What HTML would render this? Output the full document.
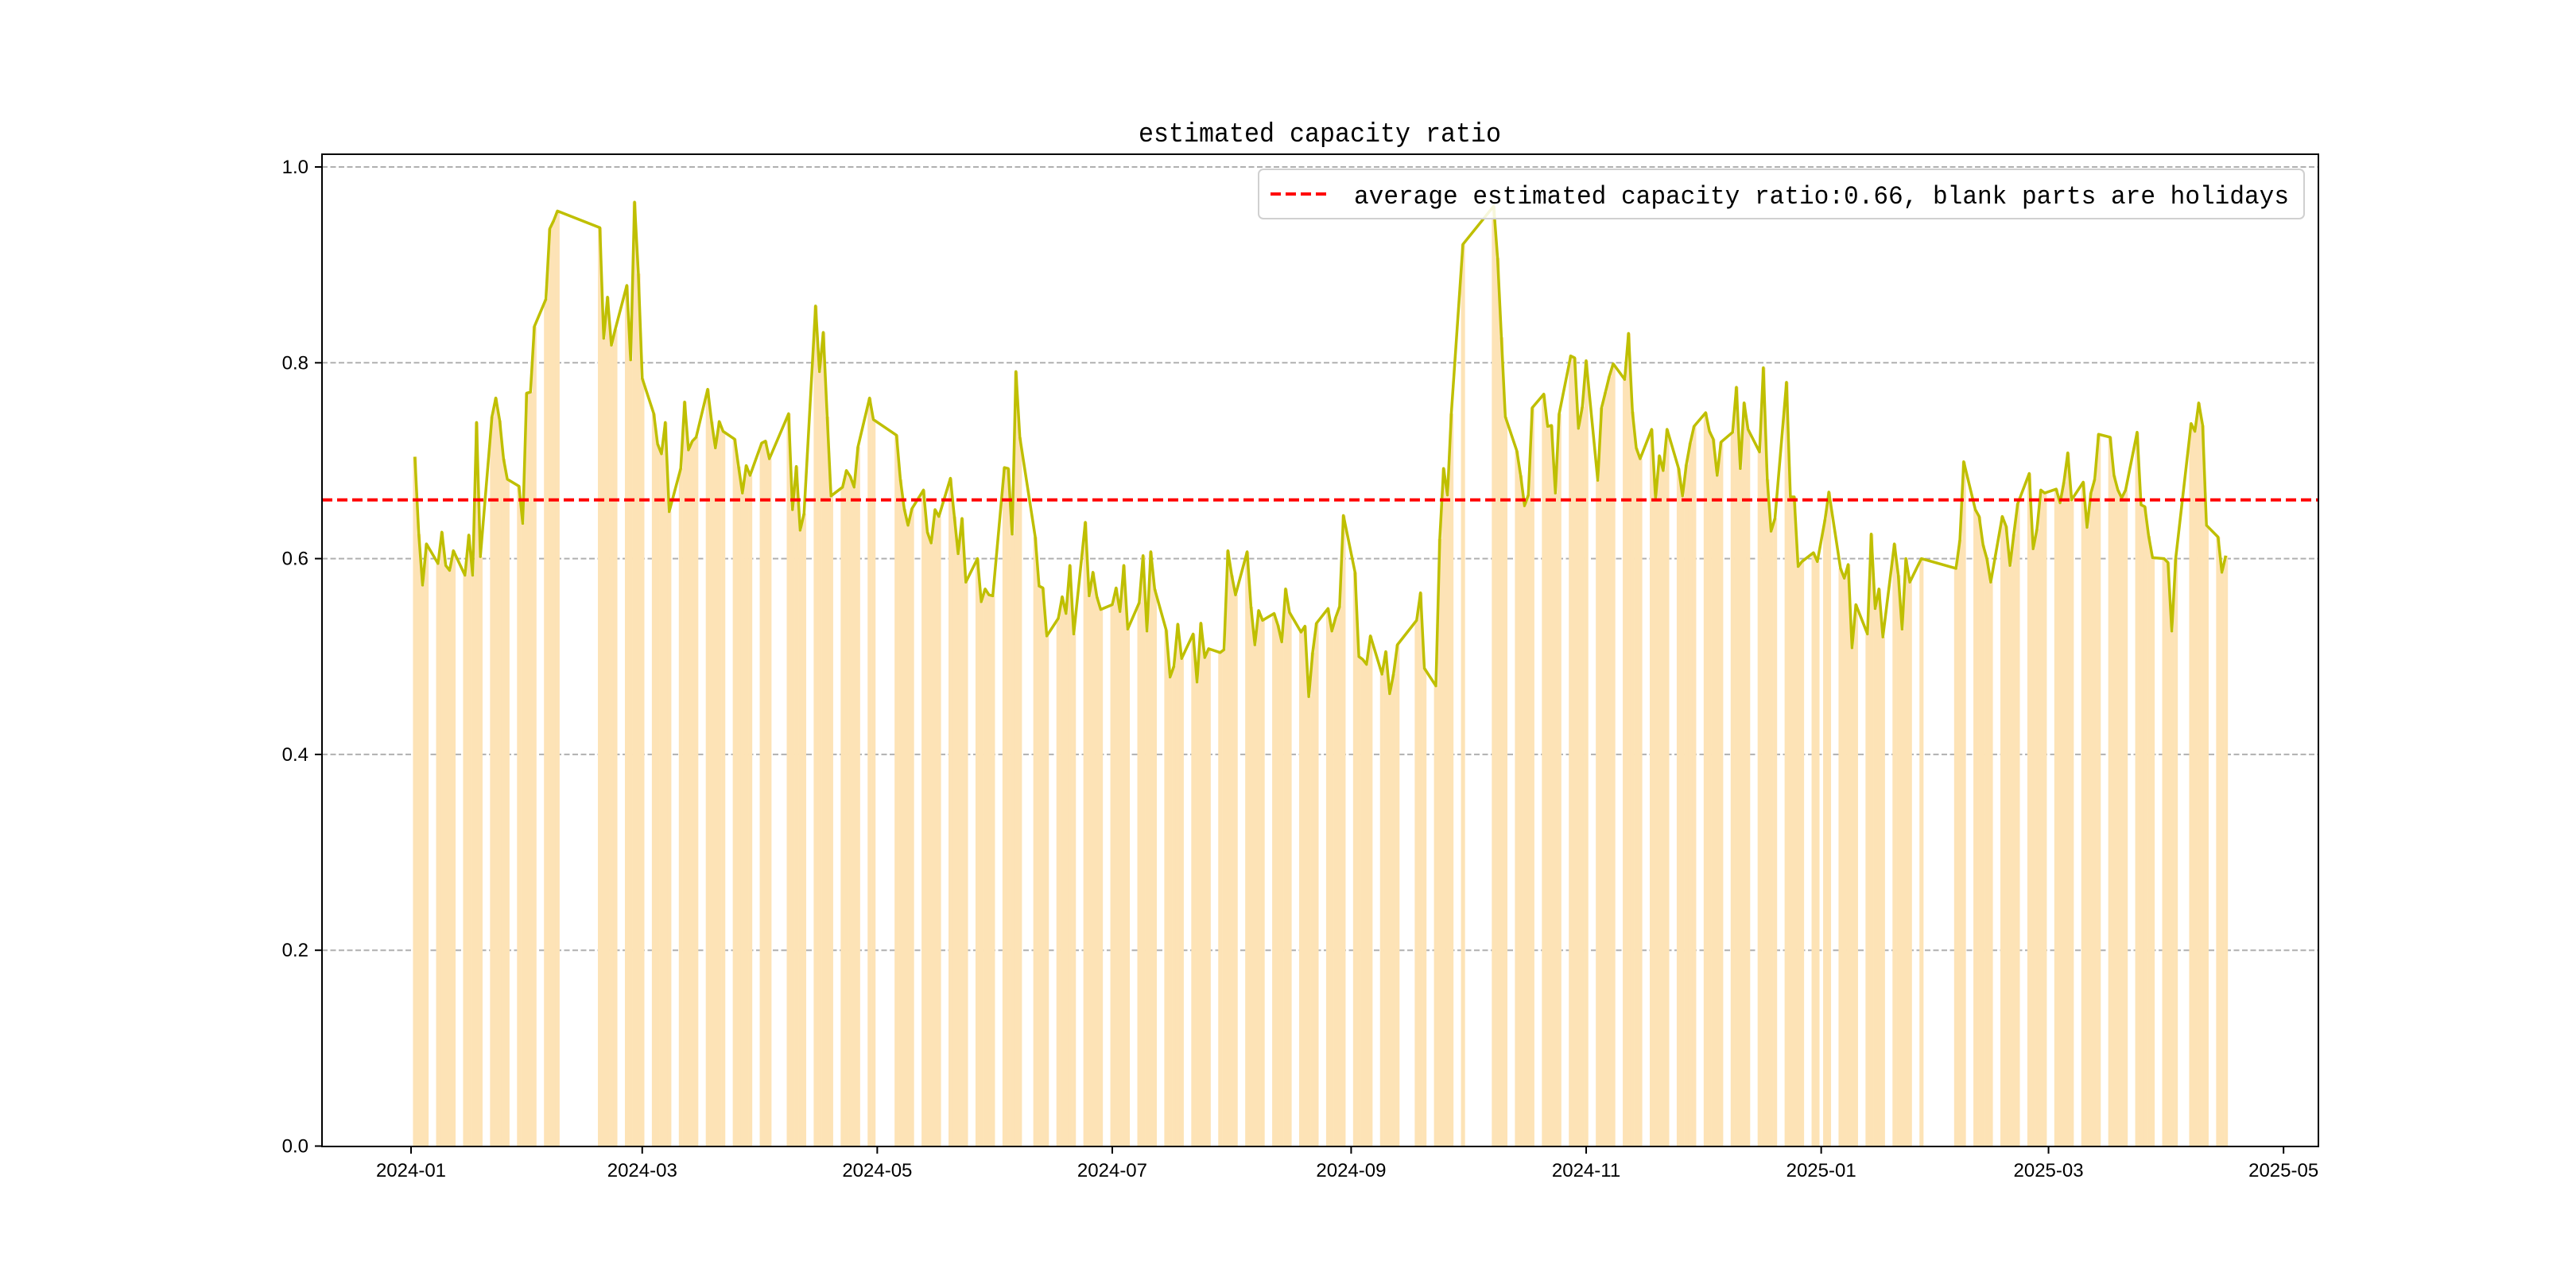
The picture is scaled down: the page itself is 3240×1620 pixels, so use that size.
<!DOCTYPE html>
<html><head><meta charset="utf-8"><style>
html,body{margin:0;padding:0;background:#fff;}
svg{display:block;}
text{font-family:"Liberation Sans",sans-serif;}
</style></head><body>
<svg id="chart" width="3240" height="1620" viewBox="0 0 3240 1620" xmlns="http://www.w3.org/2000/svg">
<rect x="0" y="0" width="3240" height="1620" fill="#fff"/>
<text x="1660" y="178" text-anchor="middle" font-size="34" textLength="456" lengthAdjust="spacingAndGlyphs" style="font-family:'Liberation Mono',monospace">estimated capacity ratio</text>
<g id="grid"></g>
<g id="bars"></g>
<g id="lines"></g>
<rect x="405" y="194" width="2511" height="1248" fill="none" stroke="#000" stroke-width="2"/>
<g id="xticks"></g>
<g id="yticks"></g>
<g>
<rect x="1583" y="213" width="1315" height="62" rx="6" fill="#fff" fill-opacity="0.85" stroke="#d0d0d0" stroke-width="2"/>
<line x1="1598" y1="244" x2="1668" y2="244" stroke="#ff0000" stroke-width="4" stroke-dasharray="13,6"/>
<text x="1703" y="256" font-size="32" textLength="1176" lengthAdjust="spacingAndGlyphs" style="font-family:'Liberation Mono',monospace">average estimated capacity ratio:0.66, blank parts are holidays</text>
</g>
</svg>
<script>
const holidays = ["2024-01-01","2024-02-09","2024-02-12","2024-02-13","2024-02-14","2024-02-15","2024-02-16",
"2024-04-04","2024-04-05","2024-05-01","2024-05-02","2024-05-03","2024-06-10","2024-09-16","2024-09-17",
"2024-10-01","2024-10-02","2024-10-03","2024-10-04","2024-10-07","2025-01-01","2025-01-28","2025-01-29",
"2025-01-30","2025-01-31","2025-02-03","2025-02-04","2025-04-04"];
const firstDate = "2024-01-02";
const lastDate = "2025-04-16";
const ratioValues = [
.704,.625,.573,.615,
.595,.627,.593,.588,.608,
.583,.624,.583,.739,.602,
.745,.764,.741,.702,.681,
.674,.636,.769,.770,.837,
.865,.937,.945,.955,
.938,.825,.867,.818,.834,
.879,.803,.964,.891,.784,
.748,.717,.707,.739,.648,
.692,.760,.711,.720,.724,
.773,.740,.713,.740,.730,
.722,.694,.667,.695,.685,
.718,.720,.702,
.748,.650,.694,.629,.646,
.858,.791,.831,.745,.664,
.673,.690,.684,.673,.714,
.764,.742,
.726,.681,.651,.634,.651,
.670,.627,.616,.650,.643,
.682,.643,.605,.641,.576,
.600,.556,.569,.563,.562,
.693,.692,.625,.791,.724,
.622,.572,.570,.521,
.539,.561,.544,.593,.523,
.637,.562,.586,.561,.548,
.553,.570,.546,.593,.528,
.555,.603,.526,.607,.569,
.527,.479,.490,.533,.498,
.523,.474,.534,.499,.508,
.504,.507,.608,.583,.563,
.607,.551,.512,.547,.537,
.544,.532,.515,.569,.545,
.525,.531,.459,.504,.534,
.549,.526,.540,.551,.644,
.586,.500,.497,.492,.521,
.482,.505,.462,.482,.512,
.537,.565,.488,
.470,.620,.692,.665,.748,
.921,
.960,.907,.826,.745,
.710,.685,.654,.665,.754,
.768,.735,.736,.667,.748,
.807,.805,.733,.755,.802,
.680,.754,.770,.786,.799,
.783,.830,.750,.713,.702,
.732,.661,.705,.690,.732,
.692,.664,.696,.718,.735,
.749,.730,.722,.685,.719,
.729,.775,.692,.759,.732,
.709,.795,.681,.628,.641,
.780,.663,.663,.592,.597,
.606,.597,
.640,.668,
.590,.580,.594,.509,.553,
.523,.625,.549,.569,.520,
.615,.583,.528,.600,.576,
.600,
.590,.619,.699,
.650,.643,.614,.600,.576,
.643,.633,.593,.625,.656,
.687,.610,.630,.670,.667,
.671,.657,.678,.708,.660,
.678,.632,.667,.681,.727,
.724,.685,.670,.662,.670,
.729,.655,.653,.623,.601,
.600,.596,.526,.600,
.738,.730,.759,.736,.634,
.622,.586,.603];
const averageRatio = 0.66;
const yTicks = [0.0,0.2,0.4,0.6,0.8,1.0];
const yTickLabels = ["0.0","0.2","0.4","0.6","0.8","1.0"];
const xTicks = ["2024-01-01","2024-03-01","2024-05-01","2024-07-01","2024-09-01","2024-11-01","2025-01-01","2025-03-01","2025-05-01"];
const xTickLabels = ["2024-01","2024-03","2024-05","2024-07","2024-09","2024-11","2025-01","2025-03","2025-05"];

const NS="http://www.w3.org/2000/svg";
const X0=517, PXDAY=4.846, Y0=1441.5, PXUNIT=1231.5, LEFT=405, RIGHT=2916;
const base=Date.UTC(2024,0,1);
function dayOf(s){const p=s.split("-");return (Date.UTC(+p[0],+p[1]-1,+p[2])-base)/86400000;}
function xs(d){return X0+d*PXDAY;}
function ys(v){return Y0-v*PXUNIT;}
function mk(tag,attrs,parent){const e=document.createElementNS(NS,tag);for(const k in attrs)e.setAttribute(k,attrs[k]);parent.appendChild(e);return e;}

// trading days (categories)
const tradingDays=[];
const hol=new Set(holidays.map(dayOf));
for(let d=dayOf(firstDate);d<=dayOf(lastDate);d++){
  const wd=new Date(base+d*86400000).getUTCDay();
  if(wd===0||wd===6||hol.has(d))continue;
  tradingDays.push(d);
}
const n=Math.min(tradingDays.length,ratioValues.length);

const grid=document.getElementById("grid");
const yt=document.getElementById("yticks");
yTicks.forEach((v,i)=>{
  if(v>0){const g=mk("line",{x1:LEFT,x2:RIGHT,y1:ys(v),y2:ys(v),stroke:"#b0b0b0","stroke-width":2,"stroke-dasharray":"7,3.5"},grid);
  
  }
  const t=mk("line",{x1:LEFT-9,x2:LEFT,y1:ys(v),y2:ys(v),stroke:"#000","stroke-width":2},yt);
  
  
  const l=mk("text",{x:LEFT-17,y:ys(v)+8,"text-anchor":"end","font-size":24},yt);
  l.textContent=yTickLabels[i];
  
  
});
const xt=document.getElementById("xticks");
xTicks.forEach((s,i)=>{
  const x=xs(dayOf(s));
  const t=mk("line",{x1:x,x2:x,y1:1442,y2:1451,stroke:"#000","stroke-width":2},xt);
  
  
  const l=mk("text",{x:x,y:1480,"text-anchor":"middle","font-size":24},xt);
  l.textContent=xTickLabels[i];
  
  
});
const bars=document.getElementById("bars");
for(let i=0;i<n;i++){
  const x=xs(tradingDays[i]);
  const b=mk("rect",{x:x-PXDAY/2,y:ys(ratioValues[i]),width:PXDAY+0.3,height:Y0-ys(ratioValues[i]),fill:"#fde3b6"},bars);
  
  
}
const lines=document.getElementById("lines");
let pts=[];
for(let i=0;i<n;i++)pts.push(xs(tradingDays[i]).toFixed(1)+","+ys(ratioValues[i]).toFixed(1));
const pl=mk("polyline",{points:pts.join(" "),fill:"none",stroke:"#bfbf00","stroke-width":3.5,"stroke-linejoin":"round"},lines);


const av=mk("line",{x1:LEFT,x2:RIGHT,y1:ys(averageRatio),y2:ys(averageRatio),stroke:"#ff0000","stroke-width":4,"stroke-dasharray":"13,6"},lines);


</script>
</body></html>
